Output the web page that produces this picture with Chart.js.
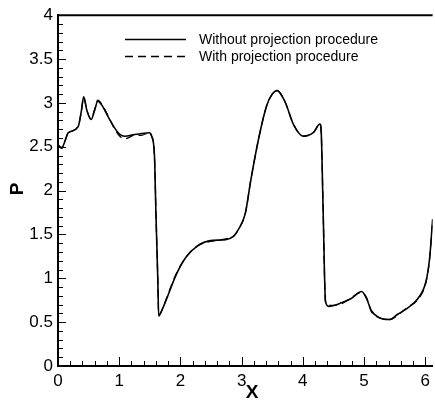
<!DOCTYPE html>
<html>
<head>
<meta charset="utf-8">
<script src="https://cdn.jsdelivr.net/npm/chart.js@4/dist/chart.umd.min.js"></script>
<style>
  html, body { margin: 0; padding: 0; background: #fff; }
  #wrap { width: 435px; height: 404px; position: relative; }
</style>
</head>
<body>
<div id="wrap"><canvas id="c" width="435" height="404"></canvas></div>
<script>
// ---- data ----
const xValues = [0, 0.06, 0.17, 0.33, 0.38, 0.42, 0.47, 0.54, 0.60, 0.65, 0.72, 0.82, 0.92, 1.01, 1.09, 1.25, 1.36, 1.49, 1.53, 1.575, 1.60, 1.63, 1.645, 1.70, 1.76, 1.93, 2.09, 2.28, 2.49, 2.74, 2.87, 2.95, 3.06, 3.15, 3.28, 3.41, 3.50, 3.58, 3.71, 3.85, 4.01, 4.17, 4.28, 4.30, 4.33, 4.37, 4.42, 4.63, 4.79, 4.96, 5.04, 5.12, 5.25, 5.42, 5.55, 5.71, 5.88, 6.01, 6.07, 6.12];
const pWithout = [2.52, 2.49, 2.66, 2.73, 2.90, 3.07, 2.92, 2.81, 2.92, 3.02, 2.97, 2.84, 2.72, 2.64, 2.62, 2.64, 2.65, 2.66, 2.62, 2.41, 1.74, 1.00, 0.57, 0.64, 0.74, 1.04, 1.24, 1.37, 1.43, 1.44, 1.48, 1.56, 1.74, 2.12, 2.60, 2.97, 3.10, 3.14, 3.01, 2.75, 2.62, 2.66, 2.76, 2.67, 1.82, 0.74, 0.68, 0.72, 0.77, 0.85, 0.77, 0.63, 0.55, 0.53, 0.59, 0.66, 0.77, 0.96, 1.22, 1.67];
const pWith    = [2.52, 2.48, 2.66, 2.73, 2.90, 3.06, 2.92, 2.82, 2.93, 3.03, 2.98, 2.85, 2.71, 2.62, 2.59, 2.63, 2.63, 2.66, 2.62, 2.41, 1.74, 1.00, 0.58, 0.64, 0.75, 1.05, 1.24, 1.37, 1.42, 1.45, 1.48, 1.56, 1.74, 2.12, 2.60, 2.97, 3.10, 3.14, 3.01, 2.75, 2.62, 2.66, 2.76, 2.67, 1.82, 0.73, 0.69, 0.71, 0.78, 0.84, 0.78, 0.62, 0.55, 0.53, 0.58, 0.67, 0.76, 0.95, 1.22, 1.67];
const seriesLabels = ["Without projection procedure", "With projection procedure"];
const xTickLabels = ["0", "1", "2", "3", "4", "5", "6"];
const yTickLabels = ["0", "0.5", "1", "1.5", "2", "2.5", "3", "3.5", "4"];
const xTitle = "X";
const yTitle = "P";

const FONT = "'Liberation Sans', Arial, Helvetica, sans-serif";

const toPts = (ys) => xValues.map((x, i) => ({ x: x, y: ys[i] }));

const decor = {
  id: 'decor',
  afterDraw(chart) {
    const ctx = chart.ctx;
    const xs = chart.scales.x, ys = chart.scales.y;
    const a = chart.chartArea;
    ctx.save();
    ctx.strokeStyle = '#000';
    // top border
    ctx.lineWidth = 2;
    ctx.beginPath();
    ctx.moveTo(a.left - 1, a.top);
    ctx.lineTo(a.right, a.top);
    ctx.stroke();
    // inward ticks
    ctx.lineWidth = 1;
    ctx.beginPath();
    for (let i = 0; i <= 40; i++) {
      const v = i / 10;
      const py = Math.round(ys.getPixelForValue(v)) + 0.5;
      const len = (i % 5 === 0) ? 8 : 5;
      ctx.moveTo(a.left, py); ctx.lineTo(a.left + len, py);
    }
    for (let i = 0; i <= 30; i++) {
      const v = i / 5;
      if (v > xs.max) break;
      const px = Math.round(xs.getPixelForValue(v)) + 0.5;
      const len = (i % 5 === 0) ? 9 : 5;
      ctx.moveTo(px, a.bottom); ctx.lineTo(px, a.bottom - len);
    }
    ctx.stroke();
    // axis titles
    ctx.fillStyle = '#000';
    ctx.font = "bold 19px " + FONT;
    ctx.textAlign = 'center';
    ctx.textBaseline = 'middle';
    ctx.fillText(xTitle, 252, 393);
    ctx.save();
    ctx.translate(18, 189);
    ctx.rotate(-Math.PI / 2);
    ctx.fillText(yTitle, 0, 0);
    ctx.restore();
    // legend
    const ds = chart.data.datasets;
    const rows = [39, 56];
    ctx.font = "14px " + FONT;
    ctx.textAlign = 'left';
    ds.forEach((d, i) => {
      ctx.lineWidth = 1.5;
      ctx.setLineDash(d.borderDash || []);
      ctx.beginPath();
      ctx.moveTo(125, rows[i] + 0.5);
      ctx.lineTo(186, rows[i] + 0.5);
      ctx.stroke();
      ctx.setLineDash([]);
      ctx.fillText(d.label, 199, rows[i] + 1);
    });
    ctx.restore();
  }
};

new Chart(document.getElementById('c'), {
  type: 'scatter',
  data: {
    datasets: [
      { label: seriesLabels[0], data: toPts(pWithout), showLine: true, borderColor: '#000', borderWidth: 1.6, pointRadius: 0, cubicInterpolationMode: 'monotone' },
      { label: seriesLabels[1], data: toPts(pWith), showLine: true, borderColor: '#000', borderWidth: 1.3, borderDash: [8, 5], pointRadius: 0, cubicInterpolationMode: 'monotone' }
    ]
  },
  options: {
    responsive: false,
    animation: false,
    devicePixelRatio: 1,
    layout: { padding: { top: 8, right: 0, left: 0, bottom: 0 } },
    plugins: { legend: { display: false }, tooltip: { enabled: false } },
    scales: {
      x: {
        type: 'linear', min: 0, max: 6.12,
        afterBuildTicks: (s) => { s.ticks = xTickLabels.map(t => ({ value: Number(t) })); },
        afterFit: (s) => { s.height = 38; },
        grid: { display: false, drawTicks: false },
        border: { display: true, color: '#000', width: 2 },
        ticks: { autoSkip: false, maxRotation: 0, padding: 5, color: '#000', font: { family: FONT, size: 17 },
                 callback: (v) => xTickLabels[xTickLabels.indexOf(String(v))] ?? '' }
      },
      y: {
        type: 'linear', min: 0, max: 4,
        afterBuildTicks: (s) => { s.ticks = yTickLabels.map(t => ({ value: Number(t) })); },
        afterFit: (s) => { s.width = 58; },
        grid: { display: false, drawTicks: false },
        border: { display: true, color: '#000', width: 2 },
        ticks: { autoSkip: false, padding: 5, color: '#000', font: { family: FONT, size: 17 },
                 callback: (v) => yTickLabels[yTickLabels.indexOf(String(v))] ?? '' }
      }
    }
  },
  plugins: [decor]
});
</script>
</body>
</html>
